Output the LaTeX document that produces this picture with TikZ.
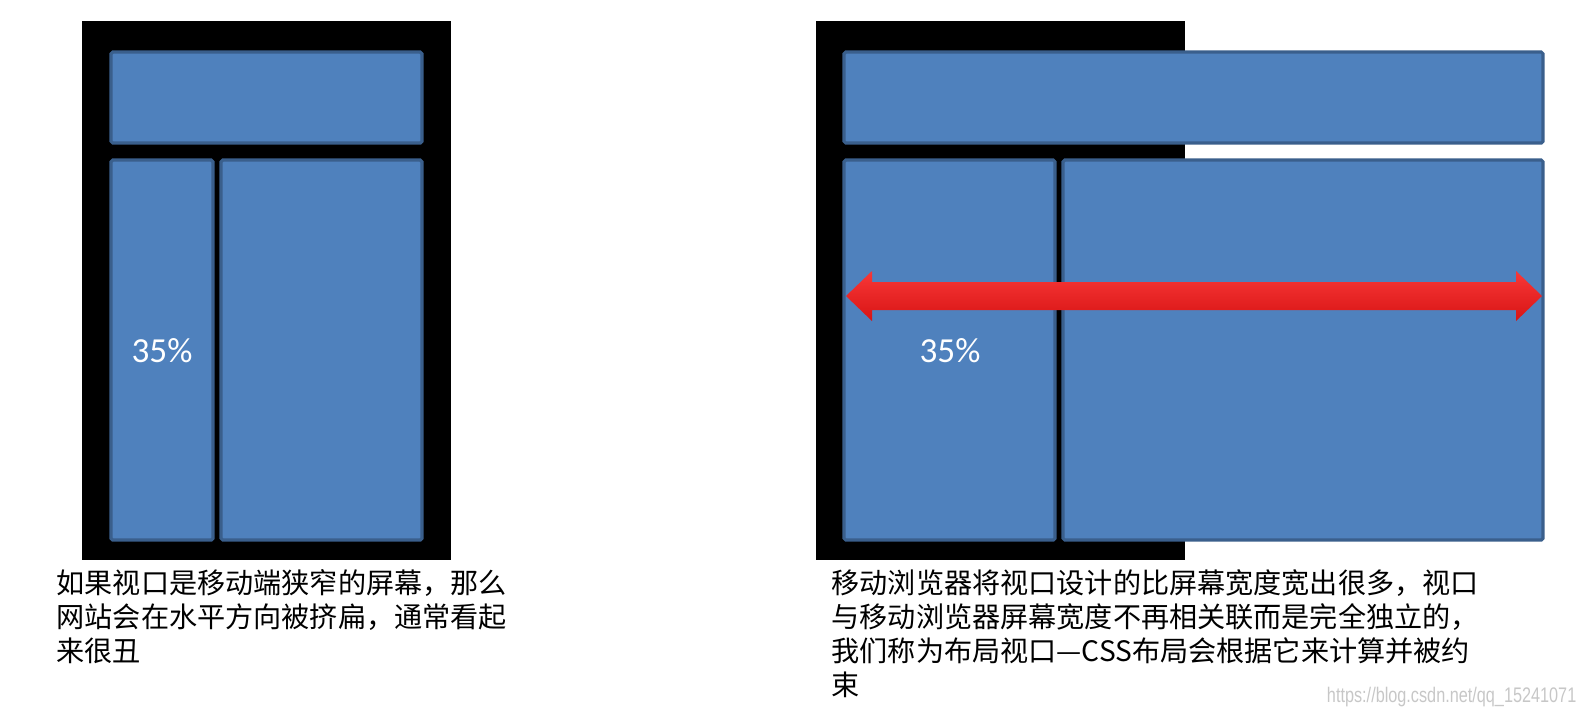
\documentclass[tikz,border=0pt]{standalone}
\usepackage{fontspec}
\usepackage{tikz}
\setmainfont{Liberation Sans}
\newfontfamily\cjk{Noto Sans CJK SC}
\newfontfamily\pctfont{Carlito}
\definecolor{boxblue}{HTML}{4F81BD}
\definecolor{boxedge}{HTML}{3A5F8C}
\definecolor{arrowtop}{HTML}{F83838}
\definecolor{arrowbot}{HTML}{D81414}

\begin{document}
\begin{tikzpicture}[x=0.01cm,y=-0.01cm,
		screen/.style={fill=black},
		pane/.style={fill=boxblue, draw=boxedge, line width=0.9pt, rounded corners=0.5pt},
		pct/.style={text=white, font=\pctfont\fontsize{10pt}{12pt}\selectfont},
		note/.style={anchor=north west, inner sep=0pt, align=left, font=\cjk\fontsize{8pt}{9.7pt}\selectfont}]
		\useasboundingbox (0,0) rectangle (1585,714);
		
		% narrow screen
		\fill[screen] (82,21) rectangle (451,560);
		\draw[pane] (111,52) rectangle (422,143);
		\draw[pane] (111,160) rectangle (213,540);
		\draw[pane] (221,160) rectangle (422,540);
		\node[pct] (pctA) at (162,351) {35\%};
		\node[note] (noteA) at (56,569) {如果视口是移动端狭窄的屏幕，那么\\网站会在水平方向被挤扁，通常看起\\来很丑};
		
		% layout viewport wider than screen
		\fill[screen] (816,21) rectangle (1185,560);
		\draw[pane] (844,52) rectangle (1543,143);
		\draw[pane] (844,160) rectangle (1055,540);
		\draw[pane] (1063,160) rectangle (1543,540);
		\node[pct] (pctB) at (950,351) {35\%};
		\shade[top color=arrowtop, bottom color=arrowbot] (846,296) -- (872,271) -- (872,282) -- (1516,282) -- (1516,271) -- (1542,296) -- (1516,321) -- (1516,310) -- (872,310) -- (872,321) -- cycle;
		\node[note] (noteB) at (831,569) {移动浏览器将视口设计的比屏幕宽度宽出很多，视口\\与移动浏览器屏幕宽度不再相关联而是完全独立的，\\我们称为布局视口—CSS布局会根据它来计算并被约\\束};
		
		\node[anchor=east, inner sep=0pt, text=black!22] (mark) at (1577,697) {\scalebox{0.77}[1]{\fontsize{6pt}{7pt}\selectfont https://blog.csdn.net/qq\_15241071}};
		
	\end{tikzpicture}
\end{document}
